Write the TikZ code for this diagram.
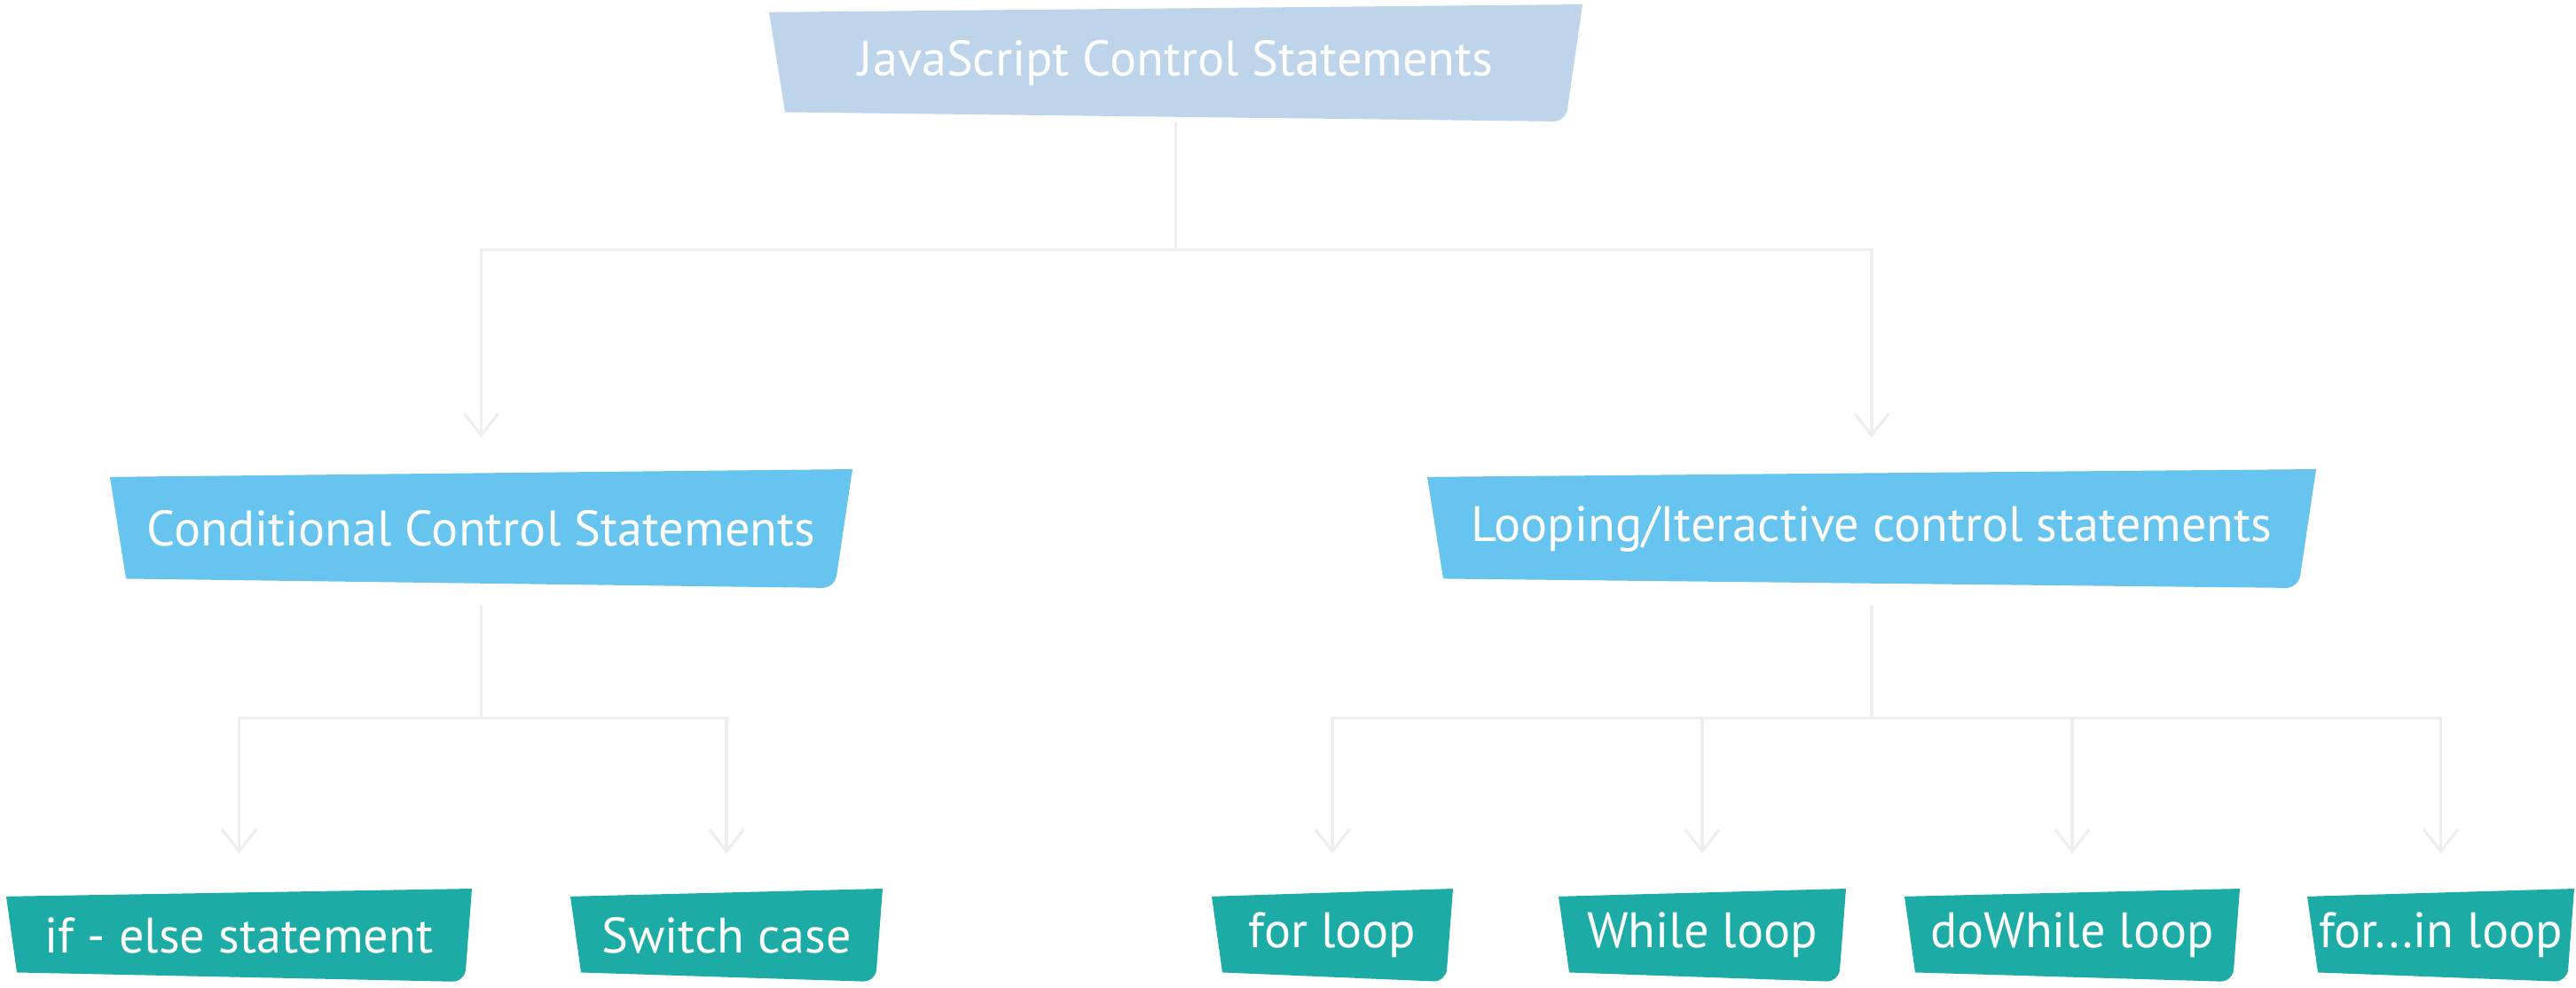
\documentclass[tikz,border=0pt]{standalone}
\usepackage{fontspec}
\setmainfont{PT Sans}
\usepackage{tikz}
\usetikzlibrary{arrows.meta,positioning,calc}
\definecolor{headblue}{HTML}{BDD4EA}
\definecolor{skyblue}{HTML}{66C4EE}
\definecolor{tealleaf}{HTML}{1CABA5}
\definecolor{wire}{HTML}{EEEEEE}
\tikzset{
  every node/.style={font=\fontsize{16}{19}\selectfont,text=white},
  tag/.style n args={3}{inner sep=0pt,fill=white,
    path picture={
      \fill[#1] ([yshift=-2.5pt]path picture bounding box.north west)
        -- (path picture bounding box.north east) [rounded corners=4pt]
        -- ([xshift=-#3]path picture bounding box.south east) [sharp corners]
        -- ([xshift=#2,yshift=3pt]path picture bounding box.south west)
        -- cycle;
    }},
  headbox/.style={tag={headblue}{1.8mm}{1.9mm},minimum width=91.7mm,minimum height=13.2mm},
  groupbox/.style={tag={skyblue}{1.8mm}{2mm},minimum height=13.4mm},
  leafbox/.style={tag={tealleaf}{1.2mm}{0.8mm},minimum height=10.5mm},
  link/.style={draw=wire,line width=0.9pt},
  linkarr/.style={link,-{Straight Barb[length=7pt,width=11pt,line width=0.9pt]}}
}
\begin{document}
\begin{tikzpicture}
  \useasboundingbox (0,0) rectangle (29.04,-11.13);

  \node[headbox] (js) at (13.255,-0.71) {JavaScript Control Statements};

  \node[groupbox,minimum width=83.7mm] (cond) at (5.425,-5.96) {Conditional Control Statements};
  \node[groupbox,minimum width=100.2mm] (loop) at (21.10,-5.96) {Looping/Iteractive control statements};

  \node[leafbox,minimum width=52.5mm] (ifelse) at (2.695,-10.545) {if - else statement};
  \node[leafbox,minimum width=35.2mm] (switch) at (8.19,-10.545) {Switch case};
  \node[leafbox,minimum width=27.2mm] (forloop) at (15.02,-10.545) {for loop};
  \node[leafbox,minimum width=32.4mm] (whileloop) at (19.19,-10.545) {While loop};
  \node[leafbox,minimum width=37.8mm] (dowhile) at (23.36,-10.545) {doWhile loop};
  \node[leafbox,minimum width=30.1mm] (forin) at (27.515,-10.545) {for...in loop};

  % top level
  \draw[linkarr] (js.south) -- ++(0,-1.44) -| ([yshift=3.5mm]cond.north);
  \draw[linkarr] (js.south) -- ++(0,-1.44) -| ([yshift=3.5mm]loop.north);

  % conditional branch
  \draw[link] ([yshift=-1.9mm]cond.south) coordinate (condfork) -- ++(0,-1.27) coordinate (condbar);
  \draw[linkarr] (condbar) -| ([yshift=3.9mm]ifelse.north);
  \draw[linkarr] (condbar) -| ([yshift=3.9mm]switch.north);

  % looping branch
  \draw[link] ([yshift=-1.9mm]loop.south) coordinate (loopfork) -- ++(0,-1.27) coordinate (loopbar);
  \foreach \leaf in {forloop,whileloop,dowhile,forin}
    \draw[linkarr] (loopbar) -| ([yshift=3.9mm]\leaf.north);
\end{tikzpicture}
\end{document}
